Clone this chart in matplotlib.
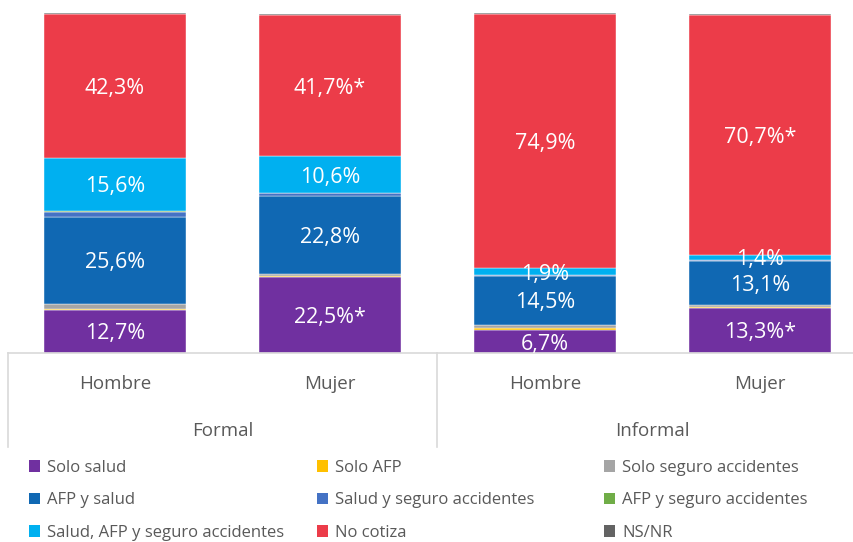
import matplotlib.pyplot as plt
from matplotlib.patches import Patch

plt.rcParams['font.family'] = ['Open Sans', 'DejaVu Sans']

groups = ['Formal', 'Informal']
sexes = ['Hombre', 'Mujer', 'Hombre', 'Mujer']

series = ['Solo salud', 'Solo AFP', 'Solo seguro accidentes', 'AFP y salud',
          'Salud y seguro accidentes', 'AFP y seguro accidentes',
          'Salud, AFP y seguro accidentes', 'No cotiza', 'NS/NR']
colors = ['#7030A0', '#FFC000', '#A5A5A5', '#1068B3', '#4472C4',
          '#70AD47', '#00B0F0', '#EC3C49', '#636363']

solo_salud = [12.7, 22.5, 6.7, 13.3]
solo_afp = [0.3, 0.1, 0.6, 0.1]
solo_seguro = [1.5, 0.7, 0.9, 0.6]
afp_salud = [25.6, 22.8, 14.5, 13.1]
salud_seguro = [1.5, 0.9, 0.2, 0.2]
afp_seguro = [0.2, 0.2, 0.1, 0.1]
salud_afp_seguro = [15.6, 10.6, 1.9, 1.4]
no_cotiza = [42.3, 41.7, 74.9, 70.7]
nsnr = [0.3, 0.3, 0.2, 0.3]

values = [solo_salud, solo_afp, solo_seguro, afp_salud, salud_seguro,
          afp_seguro, salud_afp_seguro, no_cotiza, nsnr]

# labels shown inside bars
labels = {
    0: ['12,7%', '22,5%*', '6,7%', '13,3%*'],
    3: ['25,6%', '22,8%', '14,5%', '13,1%'],
    6: ['15,6%', '10,6%', '1,9%', '1,4%'],
    7: ['42,3%', '41,7%*', '74,9%', '70,7%*'],
}

fig = plt.figure(figsize=(8.54, 5.42), dpi=100)
ax = fig.add_axes([7.5 / 854, 189 / 542, 860 / 854, 340 / 542])

x = range(len(sexes))
bottom = [0.0] * len(sexes)
for i, vals in enumerate(values):
    bars = ax.bar(x, vals, 0.665, bottom=bottom, color=colors[i],
                  edgecolor='white', linewidth=0.3, label=series[i])
    if i in labels:
        for j, b in enumerate(bars):
            ax.text(b.get_x() + b.get_width() / 2, bottom[j] + vals[j] / 2,
                    labels[i][j], ha='center', va='center_baseline',
                    color='white', fontsize=15.5)
    bottom = [bt + v for bt, v in zip(bottom, vals)]

ax.set_xlim(-0.5, 3.5)
ax.set_ylim(0, 100)
ax.axis('off')

line_col = '#D9D9D9'
ax.plot([-0.5, 3.5], [0, 0], color=line_col, lw=1.2, clip_on=False,
        transform=ax.get_xaxis_transform())
for xv in [-0.5, 1.5, 3.5]:
    ax.plot([xv, xv], [0, -0.276], color=line_col, lw=1.2, clip_on=False,
            transform=ax.get_xaxis_transform())

for j, s in enumerate(sexes):
    ax.text(j, -0.091, s, ha='center', va='center', fontsize=13.5,
            color='#595959', transform=ax.get_xaxis_transform())
for g, name in enumerate(groups):
    ax.text(2 * g + 0.5, -0.229, name, ha='center', va='center', fontsize=13.5,
            color='#595959', transform=ax.get_xaxis_transform())

# legend in three columns, row-major order as in the source
handles = [Patch(facecolor=c, edgecolor='none') for c in colors]
col_x = [22 / 854, 310 / 854, 597 / 854]
for c in range(3):
    idx = [c, c + 3, c + 6]
    fig.legend([handles[k] for k in idx], [series[k] for k in idx],
               loc='upper left', bbox_to_anchor=(col_x[c], 1 - 453 / 542),
               frameon=False, fontsize=12, labelcolor='#595959',
               handlelength=0.7, handleheight=0.7, handletextpad=0.4,
               labelspacing=1.0, borderaxespad=0)

fig.savefig('out.png', dpi=100)
